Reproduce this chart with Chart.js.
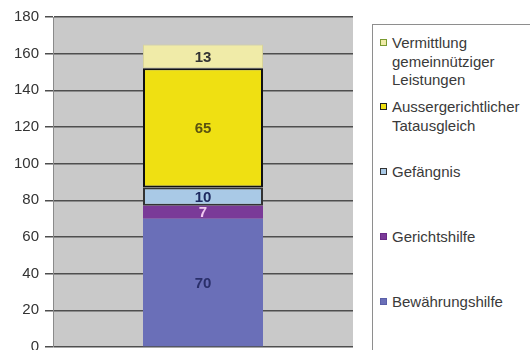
<!DOCTYPE html>
<html>
<head>
<meta charset="utf-8">
<script src="https://cdn.jsdelivr.net/npm/chart.js@4.4.0/dist/chart.umd.min.js"></script>
<style>
  html, body { margin: 0; padding: 0; width: 530px; height: 350px; overflow: hidden; background: #fff; }
  #wrap { position: relative; width: 530px; height: 362px; }
  #legend {
    position: absolute; left: 372px; top: 24px; width: 175px; height: 340px;
    border: 1.5px solid #8e8e8e; background: #fff;
    font-family: "Liberation Sans", Arial, sans-serif; font-size: 15px; color: #3a3a3a;
  }
  .item { position: absolute; left: 19px; line-height: 18.5px; white-space: nowrap; }
  .item i { position: absolute; left: -12px; top: 5px; width: 5px; height: 5px; border: 1px solid #333; }
</style>
</head>
<body>
<div id="wrap">
  <canvas id="c" width="530" height="362"></canvas>
  <div id="legend"></div>
</div>
<script>
// data
const categories = [''];
const seriesNames = ['Bewährungshilfe', 'Gerichtshilfe', 'Gefängnis', 'Aussergerichtlicher Tatausgleich', 'Vermittlung gemeinnütziger Leistungen'];
const legendLines = [['Bewährungshilfe'], ['Gerichtshilfe'], ['Gefängnis'], ['Aussergerichtlicher', 'Tatausgleich'], ['Vermittlung', 'gemeinnütziger', 'Leistungen']];
const seriesValues = [70, 7, 10, 65, 13];
const yTicks = [0, 20, 40, 60, 80, 100, 120, 140, 160, 180];

// styles
const fills = ['#6a6fb8', '#7a3a98', '#a9c9e6', '#efe012', '#f0eba8'];
const borders = ['#6a6fb8', '#7a3a98', '#333333', '#111111', '#d8d49a'];
const borderWidths = [0, 0, 2, 2, 1];
const labelColors = ['#2a2f6a', '#f0c8f0', '#1e2a60', '#5a5210', '#333333'];
const legendMarkBorder = ['#5a5fa8', '#6a2a88', '#333333', '#222222', '#7a9a30'];
const legendCenters = [302, 237, 172, 107, 43];

const plotBg = {
  id: 'plotBg',
  beforeDraw(chart) {
    const { ctx, chartArea: a } = chart;
    ctx.save();
    ctx.fillStyle = '#c9c9c9';
    ctx.fillRect(a.left, a.top, a.right - a.left, a.bottom - a.top);
    ctx.restore();
  }
};

const valueLabels = {
  id: 'valueLabels',
  afterDatasetsDraw(chart) {
    const { ctx } = chart;
    ctx.save();
    ctx.font = 'bold 15px "Liberation Sans", Arial, sans-serif';
    ctx.textAlign = 'center';
    ctx.textBaseline = 'middle';
    chart.data.datasets.forEach((ds, i) => {
      const el = chart.getDatasetMeta(i).data[0];
      const y = (el.y + el.base) / 2;
      ctx.fillStyle = labelColors[i];
      ctx.fillText(String(ds.data[0]), el.x, y + 1);
    });
    ctx.restore();
  }
};

new Chart(document.getElementById('c'), {
  type: 'bar',
  data: {
    labels: categories,
    datasets: seriesNames.map((name, i) => ({
      label: name,
      data: [seriesValues[i]],
      backgroundColor: fills[i],
      borderColor: borders[i],
      borderWidth: borderWidths[i],
      borderSkipped: false,
      barPercentage: 0.4,
      categoryPercentage: 1
    }))
  },
  options: {
    responsive: false,
    animation: false,
    layout: { padding: { top: 17, right: 177, bottom: 12, left: 0 } },
    plugins: { legend: { display: false }, tooltip: { enabled: false } },
    scales: {
      x: { stacked: true, display: false },
      y: {
        stacked: true,
        min: 0,
        max: 180,
        afterBuildTicks(scale) { scale.ticks = yTicks.map(v => ({ value: v })); },
        afterFit(scale) { scale.width = 53; },
        border: { display: true, color: '#8a8a8a', width: 1 },
        grid: { color: '#4e4e4e', lineWidth: 1.5, tickLength: 8, drawTicks: true },
        ticks: {
          color: '#333',
          padding: 6,
          font: { family: '"Liberation Sans", Arial, sans-serif', size: 15 }
        }
      }
    }
  },
  plugins: [plotBg, valueLabels]
});

// legend built from the series arrays
const leg = document.getElementById('legend');
seriesNames.forEach((name, i) => {
  const d = document.createElement('div');
  d.className = 'item';
  d.style.top = (legendCenters[i] - 9 - 25) + 'px';
  const m = document.createElement('i');
  m.style.background = fills[i];
  m.style.borderColor = legendMarkBorder[i];
  d.appendChild(m);
  legendLines[i].forEach((t, k) => {
    if (k) d.appendChild(document.createElement('br'));
    d.appendChild(document.createTextNode(t));
  });
  leg.appendChild(d);
});
</script>
</body>
</html>
